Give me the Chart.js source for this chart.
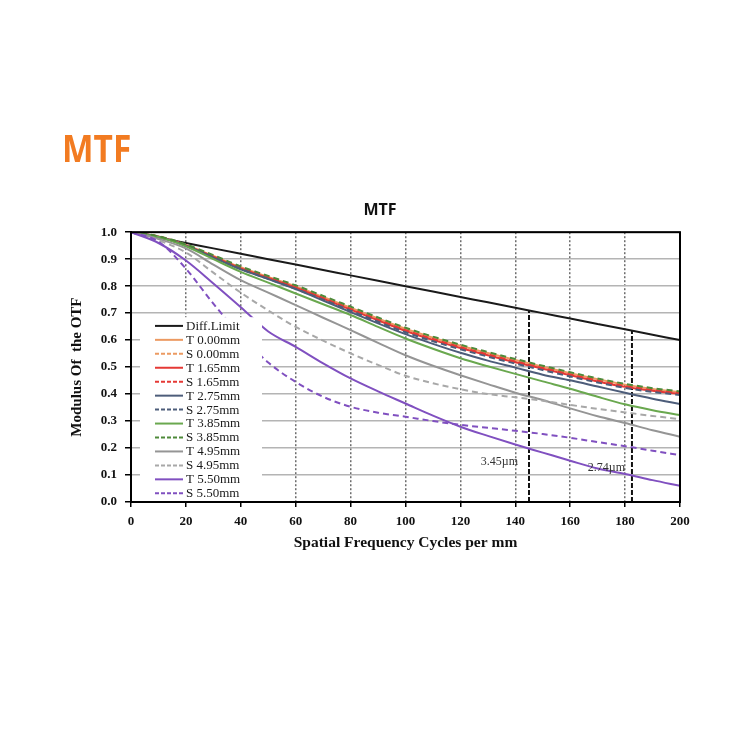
<!DOCTYPE html>
<html><head><meta charset="utf-8">
<script src="https://cdn.jsdelivr.net/npm/chart.js@4.4.1/dist/chart.umd.min.js"></script>
<style>
html,body{margin:0;padding:0;background:#fff;}
#wrap{position:relative;width:750px;height:750px;}
#head{position:absolute;left:62px;top:128px;font:bold 38px 'Open Sans',sans-serif;line-height:38px;color:#F27B21;transform-origin:0 0;transform:scaleX(0.88);white-space:nowrap;}
canvas{position:absolute;left:0;top:0;}
</style></head><body>
<div id="wrap"><canvas id="c" width="750" height="750"></canvas><div id="head">MTF</div></div>
<script>
// ---- data ----
const freq = [0,10,20,30,40,50,60,70,80,90,100,110,120,130,140,150,160,170,180,190,200];
const xTicks = [0,20,40,60,80,100,120,140,160,180,200];
const yTicks = ['0.0','0.1','0.2','0.3','0.4','0.5','0.6','0.7','0.8','0.9','1.0'];

const seriesLabels = ['Diff.Limit','T 0.00mm','S 0.00mm','T 1.65mm','S 1.65mm','T 2.75mm','S 2.75mm','T 3.85mm','S 3.85mm','T 4.95mm','S 4.95mm','T 5.50mm','S 5.50mm'];

const diffLimit = [1.000,0.980,0.960,0.940,0.920,0.900,0.880,0.860,0.840,0.820,0.800,0.780,0.760,0.740,0.720,0.700,0.680,0.660,0.640,0.620,0.600];
const t000 = [1.000,0.984,0.953,0.912,0.870,0.834,0.799,0.760,0.720,0.680,0.642,0.609,0.579,0.552,0.526,0.501,0.477,0.455,0.435,0.419,0.407];
const s000 = [1.000,0.984,0.953,0.911,0.869,0.833,0.797,0.758,0.718,0.678,0.640,0.607,0.577,0.550,0.524,0.499,0.476,0.453,0.433,0.418,0.406];
const t165 = [1.000,0.983,0.951,0.909,0.866,0.830,0.794,0.754,0.713,0.673,0.634,0.601,0.571,0.544,0.518,0.494,0.470,0.447,0.427,0.412,0.400];
const s165 = [1.000,0.984,0.952,0.910,0.868,0.832,0.796,0.756,0.716,0.676,0.637,0.604,0.574,0.547,0.521,0.497,0.473,0.450,0.430,0.415,0.403];
const t275 = [1.000,0.983,0.950,0.906,0.862,0.826,0.789,0.747,0.704,0.662,0.622,0.586,0.553,0.524,0.498,0.472,0.451,0.428,0.405,0.383,0.363];
const s275 = [1.000,0.983,0.950,0.907,0.864,0.827,0.790,0.750,0.709,0.668,0.629,0.596,0.566,0.539,0.513,0.489,0.465,0.443,0.423,0.408,0.397];
const t385 = [1.000,0.982,0.948,0.900,0.853,0.813,0.773,0.733,0.693,0.649,0.606,0.568,0.533,0.503,0.475,0.447,0.420,0.390,0.362,0.340,0.322];
const s385 = [1.000,0.985,0.955,0.915,0.873,0.838,0.803,0.764,0.724,0.684,0.646,0.613,0.583,0.556,0.530,0.505,0.481,0.458,0.438,0.422,0.410];
const t495 = [1.000,0.975,0.940,0.880,0.822,0.776,0.730,0.683,0.637,0.590,0.544,0.505,0.470,0.437,0.405,0.378,0.347,0.318,0.293,0.266,0.242];
const s495 = [1.000,0.970,0.925,0.850,0.776,0.710,0.649,0.598,0.551,0.508,0.468,0.440,0.418,0.400,0.388,0.375,0.360,0.345,0.332,0.319,0.307];
const t550 = [1.000,0.960,0.895,0.810,0.722,0.632,0.575,0.514,0.458,0.410,0.365,0.320,0.279,0.245,0.213,0.183,0.153,0.124,0.104,0.081,0.060];
const s550 = [1.000,0.965,0.865,0.735,0.618,0.517,0.445,0.390,0.353,0.331,0.316,0.300,0.286,0.275,0.264,0.252,0.238,0.222,0.207,0.190,0.174];

// Nyquist markers
const nyqFreq = [145, 182.5];
const nyqTop = [0.71, 0.635];
const nyqText = ['3.45µm', '2.74µm'];

// ---- styles ----
const seriesValues = [diffLimit,t000,s000,t165,s165,t275,s275,t385,s385,t495,s495,t550,s550];
const seriesColors = ['#1a1a1a','#EC9A62','#EC9A62','#E53935','#E53935','#4D5D7A','#4D5D7A','#6AA84F','#4E8A3A','#959595','#A8A8A8','#8050C0','#8050C0'];
const seriesDashed = [false,false,true,false,true,false,true,false,true,false,true,false,true];
const nyqLabelPos = [{x:141, y:0.148}, {x:180, y:0.126}];

const datasets = seriesLabels.map((lab, i) => ({
  label: lab,
  data: freq.map((f, k) => ({x: f, y: seriesValues[i][k]})),
  borderColor: seriesColors[i],
  borderWidth: 2,
  borderDash: seriesDashed[i] ? [6,4] : [],
  pointRadius: 0,
  fill: false,
  cubicInterpolationMode: 'monotone',
  order: -i,
  inLegend: true
}));
nyqFreq.forEach((f, i) => {
  datasets.push({
    label: nyqText[i],
    data: [{x: f, y: 0}, {x: f, y: nyqTop[i]}],
    borderColor: '#111',
    borderWidth: 2,
    borderDash: [5,2],
    pointRadius: 0,
    fill: false,
    order: 5,
    inLegend: false
  });
});

const serif = 'Liberation Serif';

const boxLegend = {
  id: 'boxLegend',
  afterDatasetsDraw(chart) {
    const ctx = chart.ctx, a = chart.chartArea;
    const xs = chart.scales.x, ys = chart.scales.y;
    ctx.save();
    // annotation labels
    ctx.font = '12px "' + serif + '"';
    ctx.fillStyle = '#333';
    ctx.textAlign = 'right';
    ctx.textBaseline = 'middle';
    nyqText.forEach((t, i) => {
      ctx.fillText(t, xs.getPixelForValue(nyqLabelPos[i].x), ys.getPixelForValue(nyqLabelPos[i].y));
    });
    // legend box
    const x0 = a.left + 9, y0 = a.top + 85, w = 122, h = a.bottom - 1 - y0;
    ctx.fillStyle = '#fff';
    ctx.fillRect(x0, y0, w, h);
    ctx.font = '13px "' + serif + '"';
    ctx.textAlign = 'left';
    const items = chart.data.datasets.filter(d => d.inLegend);
    items.forEach((d, i) => {
      const y = y0 + 8.7 + i * 13.95;
      ctx.strokeStyle = d.borderColor;
      ctx.lineWidth = 2;
      ctx.setLineDash(d.borderDash && d.borderDash.length ? [4,2] : []);
      ctx.beginPath(); ctx.moveTo(x0 + 15, y); ctx.lineTo(x0 + 43, y); ctx.stroke();
      ctx.fillStyle = '#1a1a1a';
      ctx.fillText(d.label, x0 + 46, y + 0.5);
    });
    ctx.restore();
  },
  afterDraw(chart) {
    const ctx = chart.ctx, a = chart.chartArea;
    ctx.save();
    ctx.strokeStyle = '#000';
    ctx.lineWidth = 2;
    ctx.setLineDash([]);
    ctx.strokeRect(a.left, a.top, a.right - a.left, a.bottom - a.top);
    ctx.restore();
  }
};

new Chart(document.getElementById('c'), {
  type: 'line',
  data: { datasets },
  options: {
    responsive: false,
    animation: false,
    devicePixelRatio: 1,
    layout: { padding: { left: 80, right: 70, top: 201, bottom: 198 } },
    plugins: {
      legend: { display: false },
      tooltip: { enabled: false },
      title: {
        display: true, text: 'MTF', color: '#111',
        font: { family: 'Open Sans', weight: 'bold', size: 16 },
        padding: { top: 0, bottom: 12 }
      }
    },
    scales: {
      x: {
        type: 'linear', min: 0, max: 200,
        afterFit: s => { s.height = 50; },
        afterBuildTicks: s => { s.ticks = xTicks.map(v => ({value: v})); },
        ticks: { color: '#111', padding: 7, maxRotation: 0, autoSkip: false,
          font: { family: serif, weight: 'bold', size: 13 },
          callback: v => String(v) },
        grid: { color: '#6e6e6e', lineWidth: 1.5, tickColor: '#000', tickLength: 5, tickWidth: 1.5, tickBorderDash: [] },
        border: { display: true, color: '#000', width: 2, dash: [2,2] },
        title: { display: true, text: 'Spatial Frequency Cycles per mm', color: '#111',
          font: { family: serif, weight: 'bold', size: 15.5 }, padding: { top: 0, bottom: 0 } }
      },
      y: {
        type: 'linear', min: 0, max: 1,
        afterFit: s => { s.width = 51; },
        afterBuildTicks: s => { s.ticks = yTicks.map(v => ({value: parseFloat(v)})); },
        ticks: { color: '#111', padding: 8, autoSkip: false,
          font: { family: serif, weight: 'bold', size: 13 },
          callback: (v, i) => yTicks[i] },
        grid: { color: '#b4b4b4', lineWidth: 1.5, tickColor: '#000', tickLength: 6, tickWidth: 1.5 },
        border: { display: true, color: '#000', width: 2 },
        title: { display: true, text: 'Modulus Of  the OTF', color: '#111',
          font: { family: serif, weight: 'bold', size: 15 }, padding: { top: -12, bottom: 0 } }
      }
    }
  },
  plugins: [boxLegend]
});
</script>
</body></html>
